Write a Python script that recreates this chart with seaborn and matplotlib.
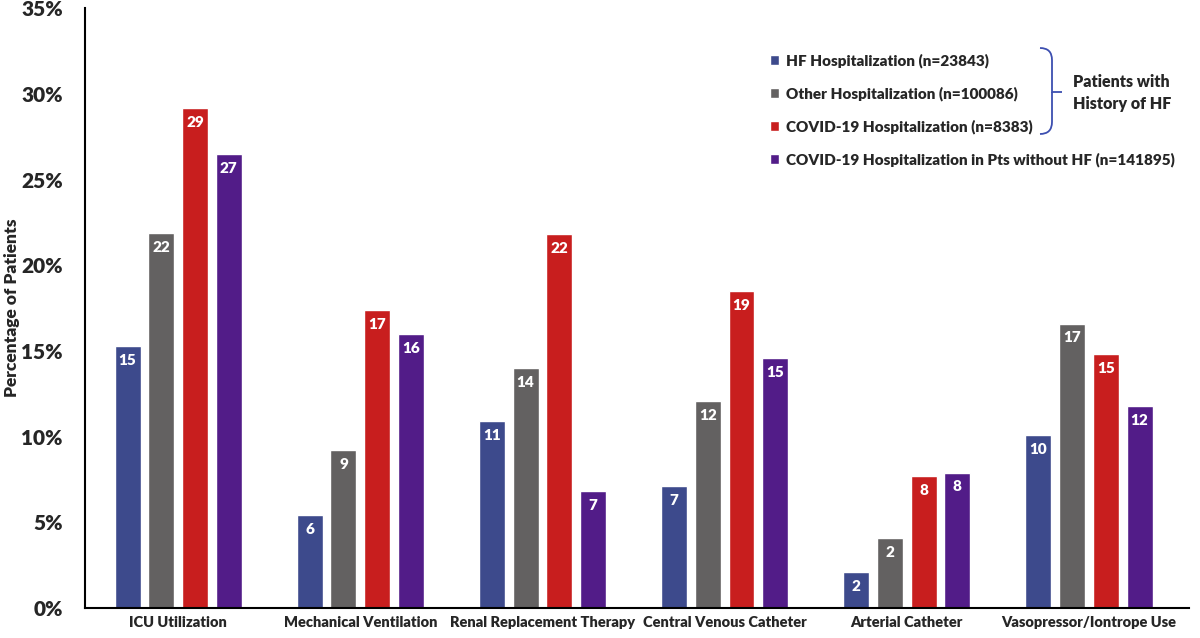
import pandas as pd
import seaborn as sns
import matplotlib.pyplot as plt
from matplotlib.path import Path
from matplotlib.patches import PathPatch
from matplotlib.ticker import FuncFormatter

# datos
categorias = ['ICU Utilization', 'Mechanical Ventilation', 'Renal Replacement Therapy',
              'Central Venous Catheter', 'Arterial Catheter', 'Vasopressor/Iontrope Use']
grupos = ['HF Hospitalization (n=23843)', 'Other Hospitalization (n=100086)',
          'COVID-19 Hospitalization (n=8383)',
          'COVID-19 Hospitalization in Pts without HF (n=141895)']
hf_hosp = [15.3, 5.4, 10.9, 7.1, 2.1, 10.1]
otra_hosp = [21.9, 9.2, 14.0, 12.1, 4.1, 16.6]
covid_hf = [29.2, 17.4, 21.8, 18.5, 7.7, 14.8]
covid_sin_hf = [26.5, 16.0, 6.8, 14.6, 7.9, 11.8]
etiquetas = [
    ['15', '6', '11', '7', '2', '10'],
    ['22', '9', '14', '12', '2', '17'],
    ['29', '17', '22', '19', '8', '15'],
    ['27', '16', '7', '15', '8', '12'],
]
colores = ['#3D4A8C', '#636161', '#C81E1E', '#521C88']

df = pd.DataFrame({
    'categoria': categorias * 4,
    'grupo': [g for g in grupos for _ in categorias],
    'valor': hf_hosp + otra_hosp + covid_hf + covid_sin_hf,
})

sns.set_style('white')
plt.rcParams['font.family'] = ['Lato', 'DejaVu Sans']
peso = 'heavy'

fig = plt.figure(figsize=(12, 6.38), dpi=100)
ax = fig.add_axes([0.071, 0.047, 0.92, 0.94])

sns.barplot(data=df, x='categoria', y='valor', hue='grupo', palette=colores,
            width=0.74, gap=0.23, saturation=1, ax=ax)

for cont, labs in zip(ax.containers, etiquetas):
    ax.bar_label(cont, labels=labs, padding=-15, color='white',
                 fontsize=11, fontweight=peso)

ax.set_ylim(0, 35)
ax.set_xlim(-0.51, 5.55)
ax.set_yticks(range(0, 36, 5))
ax.yaxis.set_major_formatter(FuncFormatter(lambda v, p: f'{v:.0f}%'))
ax.tick_params(axis='y', labelsize=15, pad=16, length=0)
ax.tick_params(axis='x', labelsize=10.5, pad=6, length=0)
for t in ax.get_yticklabels() + ax.get_xticklabels():
    t.set_fontweight(peso)
ax.set_xlabel('')
ax.set_ylabel('Percentage of Patients', fontsize=12.5, fontweight=peso)
ax.yaxis.set_label_coords(-0.059, 0.5)

sns.despine(ax=ax)
ax.spines['left'].set_linewidth(1.5)
ax.spines['bottom'].set_linewidth(1.5)
ax.spines['left'].set_color('black')
ax.spines['bottom'].set_color('black')

leg = ax.legend(loc='upper left', bbox_to_anchor=(0.615, 0.935), frameon=False,
                fontsize=11, handlelength=0.6, handleheight=0.6,
                handletextpad=0.45, labelspacing=1.2, borderaxespad=0)
for t in leg.get_texts():
    t.set_fontweight(peso)

# llave
W, H = 1200, 638
def p(x, y):
    return (x / W, 1 - y / H)
verts = [p(1040, 48), p(1052, 48), p(1052, 60), p(1052, 80), p(1052, 92),
         p(1052, 92), p(1062, 92), p(1052, 92), p(1052, 104), p(1052, 122),
         p(1052, 134), p(1040, 134)]
codes = [Path.MOVETO, Path.CURVE3, Path.CURVE3, Path.LINETO, Path.CURVE3,
         Path.CURVE3, Path.LINETO, Path.MOVETO, Path.CURVE3, Path.LINETO,
         Path.CURVE3, Path.CURVE3]
fig.add_artist(PathPatch(Path(verts, codes), transform=fig.transFigure,
                         fill=False, edgecolor='#3D4FB0', linewidth=1.3))
fig.text(1073 / W, 1 - 93 / H, 'Patients with\nHistory of HF', fontsize=11.5,
         fontweight=peso, va='center', ha='left', linespacing=1.5)

plt.savefig('out.png', dpi=100)
